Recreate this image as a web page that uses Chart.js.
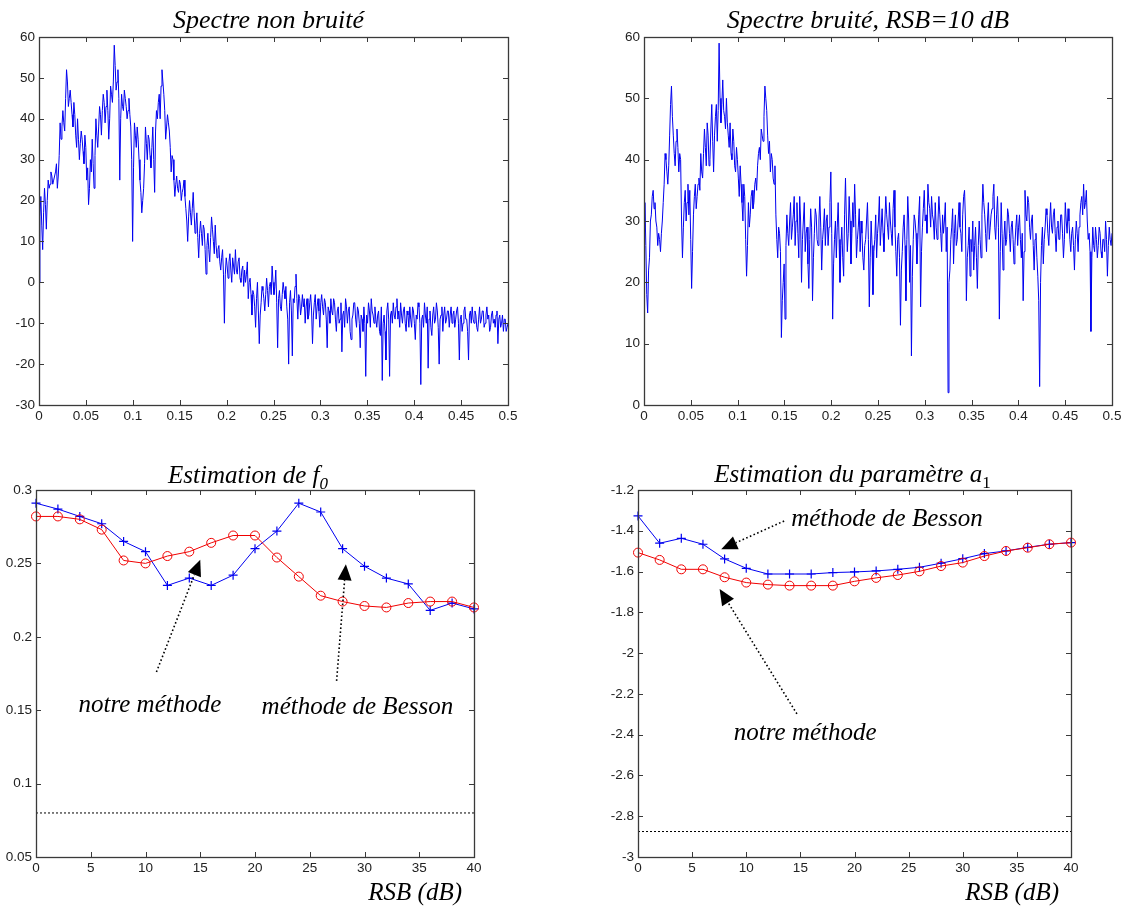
<!DOCTYPE html>
<html>
<head>
<meta charset="utf-8">
<script src="https://cdn.jsdelivr.net/npm/chart.js@4"></script>
<style>
  html, body { margin: 0; padding: 0; background: #fff; }
  body { width: 1125px; height: 906px; position: relative; overflow: hidden; }
  canvas { position: absolute; }
</style>
</head>
<body>
<canvas id="specClean" width="560" height="440" style="left:0;top:0"></canvas>
<canvas id="specNoisy" width="565" height="440" style="left:560px;top:0"></canvas>
<canvas id="estF0" width="560" height="466" style="left:0;top:440px"></canvas>
<canvas id="estA1" width="565" height="466" style="left:560px;top:440px"></canvas>
<script>
// ---- Spectrum magnitudes (dB), 512 bins from 0 to 0.5 ----
const spectrumClean = [
  0, 16, 21, 14, 8, 17, 23, 19, 13, 20, 25, 23, 24, 27, 26, 24, 25, 26, 27, 29, 23, 26, 31, 39, 35, 38, 42, 39, 37, 45, 52, 49,
  43, 45, 47, 44, 41, 38, 44, 41, 36, 33, 40, 35, 30, 34, 37, 35, 32, 29, 36, 33, 25, 28, 19, 23, 30, 27, 35, 29, 23, 31, 40, 36,
  33, 38, 43, 41, 36, 42, 46, 44, 39, 43, 47, 42, 35, 40, 48, 46, 44, 49, 58, 53, 47, 49, 52, 45, 25, 40, 46, 43, 42, 47, 45, 43,
  40, 42, 45, 41, 38, 30, 10, 28, 39, 36, 33, 38, 35, 30, 25, 22, 17, 20, 23, 29, 38, 34, 30, 36, 35, 31, 28, 33, 38, 30, 22, 37,
  42, 40, 44, 46, 40, 48, 52, 49, 46, 42, 35, 38, 41, 39, 37, 33, 27, 31, 30, 25, 21, 24, 26, 23, 22, 25, 24, 20, 22, 23, 25, 21,
  18, 15, 10, 16, 20, 17, 14, 18, 22, 17, 12, 14, 17, 11, 6, 12, 15, 12, 9, 14, 13, 8, 2, 9, 12, 8, 5, 11, 16, 13, 10, 7,
  14, 9, 6, 8, 9, 5, 3, 6, 8, 2, -10, 2, 6, 4, 1, 5, 7, 3, 0, 6, 4, 2, 8, 3, 2, 5, 6, 1, 0, 3, 4, -1,
  3, 0, 2, 5, -4, 0, 1, -3, -8, -2, -3, -6, -11, -4, 0, -7, -15, -8, -5, -1, -2, -4, -7, -3, 1, -2, -6, -1, 0, -3, 4, 0,
  -3, -1, 3, -5, -16, -4, -2, -6, -7, -3, 0, -2, -4, -1, -6, -9, -20, -5, -2, -7, -18, -4, -5, -1, 2, -4, -9, -3, -4, -8, -6, -3,
  -6, -4, -10, -6, -4, -9, -8, -5, -3, -7, -15, -8, -5, -3, -9, -6, -4, -7, -11, -5, -3, -6, -8, -4, -5, -9, -16, -6, -7, -10, -4, -7,
  -8, -4, -5, -9, -12, -7, -6, -10, -9, -5, -17, -8, -7, -11, -4, -6, -10, -7, -6, -12, -14, -9, -8, -5, -5, -9, -11, -6, -7, -10, -16, -8,
  -9, -12, -6, -10, -23, -8, -10, -5, -7, -11, -4, -7, -8, -10, -6, -9, -11, -8, -7, -12, -13, -6, -24, -10, -8, -12, -19, -7, -5, -9, -23, -8,
  -7, -10, -5, -8, -9, -6, -4, -9, -7, -11, -5, -8, -10, -7, -6, -10, -12, -7, -8, -11, -6, -9, -11, -6, -7, -10, -14, -8, -9, -5, -6, -10,
  -25, -9, -8, -11, -5, -8, -10, -6, -21, -9, -7, -11, -13, -8, -6, -10, -9, -5, -7, -11, -20, -9, -8, -6, -12, -8, -6, -10, -9, -7, -7, -11,
  -8, -6, -10, -8, -7, -11, -9, -7, -6, -10, -19, -9, -8, -12, -10, -7, -6, -9, -9, -12, -19, -8, -7, -10, -6, -9, -10, -7, -8, -11, -12, -9,
  -6, -10, -9, -7, -7, -11, -10, -8, -6, -9, -8, -12, -11, -8, -7, -10, -9, -11, -8, -7, -15, -9, -8, -11, -10, -8, -12, -9, -9, -12, -11, -10
];
const spectrumNoisy = [
  29, 33, 26, 18, 15, 22, 24, 30, 31, 34, 35, 32, 33, 30, 29, 26, 28, 27, 25, 28, 30, 33, 36, 41, 40, 38, 36, 39, 44, 49, 52, 47,
  44, 41, 39, 43, 45, 42, 38, 41, 40, 30, 24, 29, 33, 35, 30, 33, 36, 31, 35, 27, 19, 25, 31, 34, 36, 32, 34, 36, 37, 35, 41, 38,
  37, 41, 45, 42, 39, 46, 44, 39, 40, 45, 49, 43, 38, 44, 47, 49, 43, 48, 59, 50, 46, 49, 53, 48, 47, 45, 50, 46, 44, 42, 46, 41,
  40, 45, 43, 39, 38, 42, 40, 37, 34, 39, 36, 33, 30, 36, 34, 27, 21, 26, 33, 29, 31, 34, 35, 32, 33, 36, 37, 35, 39, 41, 42, 40,
  45, 44, 43, 47, 52, 50, 48, 44, 41, 43, 38, 41, 40, 37, 36, 39, 31, 27, 24, 29, 28, 25, 11, 17, 20, 23, 14, 26, 31, 28, 26, 30,
  33, 27, 29, 31, 34, 26, 30, 33, 28, 24, 34, 30, 20, 27, 30, 33, 25, 28, 29, 23, 19, 27, 32, 29, 17, 24, 28, 32, 31, 27, 26, 30,
  34, 29, 22, 27, 29, 32, 26, 30, 31, 26, 29, 33, 38, 28, 14, 23, 27, 30, 24, 29, 33, 27, 20, 26, 29, 24, 21, 31, 37, 30, 25, 28,
  34, 30, 23, 28, 33, 29, 36, 31, 24, 27, 29, 32, 25, 30, 28, 24, 22, 26, 27, 30, 33, 27, 16, 24, 30, 26, 18, 25, 27, 31, 24, 28,
  30, 34, 26, 29, 32, 28, 25, 30, 34, 31, 29, 27, 33, 30, 28, 26, 32, 35, 29, 25, 21, 27, 28, 24, 13, 22, 25, 29, 31, 26, 17, 27,
  34, 30, 20, 26, 8, 21, 27, 31, 30, 28, 23, 27, 31, 34, 16, 25, 29, 32, 35, 30, 31, 28, 36, 33, 32, 29, 34, 31, 30, 27, 33, 29,
  27, 30, 34, 31, 28, 25, 31, 28, 30, 33, 25, 29, 2, 20, 22, 27, 29, 32, 23, 28, 31, 26, 27, 30, 33, 29, 28, 25, 31, 34, 35, 30,
  17, 24, 26, 29, 21, 27, 25, 30, 22, 26, 29, 24, 19, 26, 30, 27, 24, 31, 36, 33, 31, 28, 25, 30, 33, 27, 29, 31, 32, 34, 36, 29,
  27, 31, 34, 29, 14, 25, 33, 28, 22, 27, 30, 26, 27, 32, 31, 28, 25, 29, 30, 27, 23, 26, 29, 31, 26, 29, 31, 27, 24, 28, 17, 25,
  35, 31, 30, 34, 33, 29, 27, 30, 31, 26, 22, 27, 28, 24, 21, 17, 3, 20, 26, 29, 23, 27, 29, 32, 31, 28, 26, 30, 33, 29, 28, 31,
  32, 28, 25, 29, 30, 27, 27, 31, 31, 28, 24, 27, 33, 30, 28, 32, 30, 27, 25, 28, 29, 26, 22, 27, 30, 28, 25, 29, 31, 33, 34, 31,
  36, 32, 33, 35, 30, 27, 28, 25, 12, 24, 29, 26, 25, 29, 27, 24, 26, 29, 28, 25, 24, 27, 27, 25, 30, 27, 21, 26, 29, 27, 26, 28
];
// normalised frequency of each bin
const freqs = spectrumClean.map((_, i) => i * 0.5 / (spectrumClean.length - 1));

// ---- Estimation results versus signal-to-noise ratio ----
const snr = [0, 2, 4, 6, 8, 10, 12, 14, 16, 18, 20, 22, 24, 26, 28, 30, 32, 34, 36, 38, 40];
const f0Besson = [0.291, 0.287, 0.282, 0.277, 0.265, 0.258, 0.235, 0.240, 0.235, 0.242, 0.260,
                  0.272, 0.291, 0.285, 0.260, 0.248, 0.240, 0.236, 0.218, 0.223, 0.219];
const f0Ours   = [0.282, 0.282, 0.280, 0.273, 0.252, 0.250, 0.255, 0.258, 0.264, 0.269, 0.269,
                  0.254, 0.241, 0.228, 0.224, 0.221, 0.220, 0.223, 0.224, 0.224, 0.220];
const a1Besson = [-1.327, -1.461, -1.437, -1.466, -1.538, -1.584, -1.612, -1.612, -1.612, -1.605, -1.602,
                  -1.597, -1.589, -1.579, -1.559, -1.537, -1.512, -1.499, -1.481, -1.466, -1.458];
const a1Ours   = [-1.507, -1.543, -1.589, -1.589, -1.628, -1.654, -1.664, -1.669, -1.669, -1.669, -1.648,
                  -1.631, -1.617, -1.599, -1.573, -1.556, -1.524, -1.499, -1.483, -1.466, -1.458];
const refSnr = [0, 40];
const f0True = 0.08;
const a1True = -2.875;

const SERIF = '"Liberation Serif", "Times New Roman", serif';
const SANS = '"Liberation Sans", Arial, sans-serif';
const BLUE = '#0000f0';
const RED = '#f00000';

function fmt(v) { return String(parseFloat(v.toFixed(3))); }

function drawRich(ctx, parts, cx, baseline, size) {
  let total = 0;
  const fonts = parts.map(p => {
    const s = p.sub ? size * 0.68 : size;
    const f = (p.upright ? '' : 'italic ') + s + 'px ' + SERIF;
    ctx.font = f;
    const w = ctx.measureText(p.t).width;
    total += w;
    return { f, w };
  });
  let x = cx - total / 2;
  ctx.textAlign = 'left';
  ctx.textBaseline = 'alphabetic';
  parts.forEach((p, i) => {
    ctx.font = fonts[i].f;
    ctx.fillText(p.t, x, baseline + (p.sub ? size * 0.22 : 0));
    x += fonts[i].w;
  });
}

// Box, inward ticks, tick labels, titles and annotations
const axesDecor = {
  id: 'axesDecor',
  afterDatasetsDraw(chart, args, o) {
    const { ctx, chartArea: a, scales: { x, y } } = chart;
    ctx.save();
    ctx.strokeStyle = '#3a3a3a';
    ctx.lineWidth = 1;
    ctx.beginPath();
    for (const t of x.ticks) {
      const px = Math.round(x.getPixelForValue(t.value)) + 0.5;
      ctx.moveTo(px, a.bottom); ctx.lineTo(px, a.bottom - 5);
      ctx.moveTo(px, a.top); ctx.lineTo(px, a.top + 5);
    }
    for (const t of y.ticks) {
      const py = Math.round(y.getPixelForValue(t.value)) + 0.5;
      ctx.moveTo(a.left, py); ctx.lineTo(a.left + 5, py);
      ctx.moveTo(a.right, py); ctx.lineTo(a.right - 5, py);
    }
    ctx.stroke();
    ctx.lineWidth = 1.3;
    ctx.strokeRect(Math.round(a.left) + 0.5, Math.round(a.top) + 0.5,
                   Math.round(a.right - a.left), Math.round(a.bottom - a.top));

    ctx.fillStyle = '#222';
    ctx.font = '13.5px ' + SANS;
    ctx.textAlign = 'center'; ctx.textBaseline = 'top';
    for (const t of x.ticks) ctx.fillText(fmt(t.value), x.getPixelForValue(t.value), a.bottom + 5);
    ctx.textAlign = 'right'; ctx.textBaseline = 'middle';
    for (const t of y.ticks) ctx.fillText(fmt(t.value), a.left - 4, y.getPixelForValue(t.value));

    ctx.fillStyle = '#000';
    if (o.title) {
      drawRich(ctx, o.title.parts, (a.left + a.right) / 2 + o.title.dx, a.top - o.title.rise, o.title.size);
    }
    if (o.xlabel) {
      ctx.font = 'italic 25px ' + SERIF;
      ctx.textAlign = 'right'; ctx.textBaseline = 'alphabetic';
      ctx.fillText(o.xlabel, a.right - 12, a.bottom + 43);
    }
    (o.notes || []).forEach(n => {
      ctx.font = 'italic 25px ' + SERIF;
      ctx.textAlign = 'center'; ctx.textBaseline = 'alphabetic';
      ctx.fillText(n.text, x.getPixelForValue(n.x), y.getPixelForValue(n.y));
    });
    (o.arrows || []).forEach(r => {
      const x0 = x.getPixelForValue(r.x0), y0 = y.getPixelForValue(r.y0);
      const x1 = x.getPixelForValue(r.x1), y1 = y.getPixelForValue(r.y1);
      const len = Math.hypot(x1 - x0, y1 - y0);
      const ux = (x1 - x0) / len, uy = (y1 - y0) / len;
      const hl = 16, hw = 7;
      const bx = x1 - ux * hl, by = y1 - uy * hl;
      ctx.strokeStyle = '#000';
      ctx.lineWidth = 1.6;
      ctx.setLineDash([1.6, 2.4]);
      ctx.beginPath(); ctx.moveTo(x0, y0); ctx.lineTo(bx, by); ctx.stroke();
      ctx.setLineDash([]);
      ctx.beginPath();
      ctx.moveTo(x1, y1);
      ctx.lineTo(bx - uy * hw, by + ux * hw);
      ctx.lineTo(bx + uy * hw, by - ux * hw);
      ctx.closePath();
      ctx.fill();
    });
    ctx.restore();
  }
};

function makeChart(id, geom, xr, yr, datasets, decor) {
  return new Chart(document.getElementById(id), {
    type: 'line',
    data: { datasets },
    options: {
      responsive: false,
      devicePixelRatio: 1,
      animation: false,
      events: [],
      layout: { padding: { left: 0, bottom: 0, top: geom.top, right: geom.right } },
      plugins: { legend: { display: false }, tooltip: { enabled: false }, axesDecor: decor },
      scales: {
        x: {
          type: 'linear', min: xr[0], max: xr[1],
          ticks: { display: false, stepSize: xr[2] },
          grid: { display: false }, border: { display: false },
          afterFit: s => { s.height = geom.bottom; }
        },
        y: {
          type: 'linear', min: yr[0], max: yr[1],
          ticks: { display: false, stepSize: yr[2] },
          grid: { display: false }, border: { display: false },
          afterFit: s => { s.width = geom.left; }
        }
      }
    },
    plugins: [axesDecor]
  });
}

function spectrumSet(values) {
  return [{
    data: values.map((v, i) => ({ x: freqs[i], y: v })),
    borderColor: BLUE, borderWidth: 1, pointRadius: 0, tension: 0
  }];
}

function estimateSets(besson, ours, truth) {
  return [
    { data: ours.map((v, i) => ({ x: snr[i], y: v })), borderColor: RED, borderWidth: 1,
      pointStyle: 'circle', pointRadius: 4.5, pointBorderColor: RED, pointBackgroundColor: 'rgba(0,0,0,0)',
      pointBorderWidth: 1, clip: false, order: 0 },
    { data: besson.map((v, i) => ({ x: snr[i], y: v })), borderColor: BLUE, borderWidth: 1,
      pointStyle: 'cross', pointRadius: 4.5, pointBorderColor: BLUE, pointBorderWidth: 1.2,
      clip: false, order: 1 },
    { data: refSnr.map(s => ({ x: s, y: truth })), borderColor: '#000', borderWidth: 1,
      borderDash: [2, 2], pointRadius: 0, order: 2 }
  ];
}

makeChart('specClean', { left: 39, top: 37, right: 52, bottom: 35 },
  [0, 0.5, 0.05], [-30, 60, 10], spectrumSet(spectrumClean),
  { title: { parts: [{ t: 'Spectre non bruité' }], dx: -5, rise: 9, size: 26 } });

makeChart('specNoisy', { left: 84, top: 37, right: 13, bottom: 35 },
  [0, 0.5, 0.05], [0, 60, 10], spectrumSet(spectrumNoisy),
  { title: { parts: [{ t: 'Spectre bruité, RSB=10 dB' }], dx: -10, rise: 9, size: 26 } });

makeChart('estF0', { left: 36, top: 50, right: 86, bottom: 49 },
  [0, 40, 5], [0.05, 0.3, 0.05], estimateSets(f0Besson, f0Ours, f0True),
  {
    title: { parts: [{ t: 'Estimation de f' }, { t: '0', sub: true }], dx: -7, rise: 7, size: 25 },
    xlabel: 'RSB (dB)',
    notes: [{ text: 'notre méthode', x: 10.4, y: 0.1491 }, { text: 'méthode de Besson', x: 29.35, y: 0.1476 }],
    arrows: [{ x0: 11.0, y0: 0.176, x1: 15.0, y1: 0.2525 }, { x0: 27.45, y0: 0.170, x1: 28.3, y1: 0.2495 }]
  });

makeChart('estA1', { left: 78, top: 50, right: 54, bottom: 49 },
  [0, 40, 5], [-3, -1.2, 0.2], estimateSets(a1Besson, a1Ours, a1True),
  {
    title: { parts: [{ t: 'Estimation du paramètre a' }, { t: '1', sub: true, upright: true }], dx: -2, rise: 8, size: 25 },
    xlabel: 'RSB (dB)',
    notes: [{ text: 'méthode de Besson', x: 23.0, y: -1.376 }, { text: 'notre méthode', x: 15.45, y: -2.425 }],
    arrows: [{ x0: 13.5, y0: -1.352, x1: 7.69, y1: -1.491 }, { x0: 14.68, y0: -2.298, x1: 7.54, y1: -1.685 }]
  });
</script>
</body>
</html>
